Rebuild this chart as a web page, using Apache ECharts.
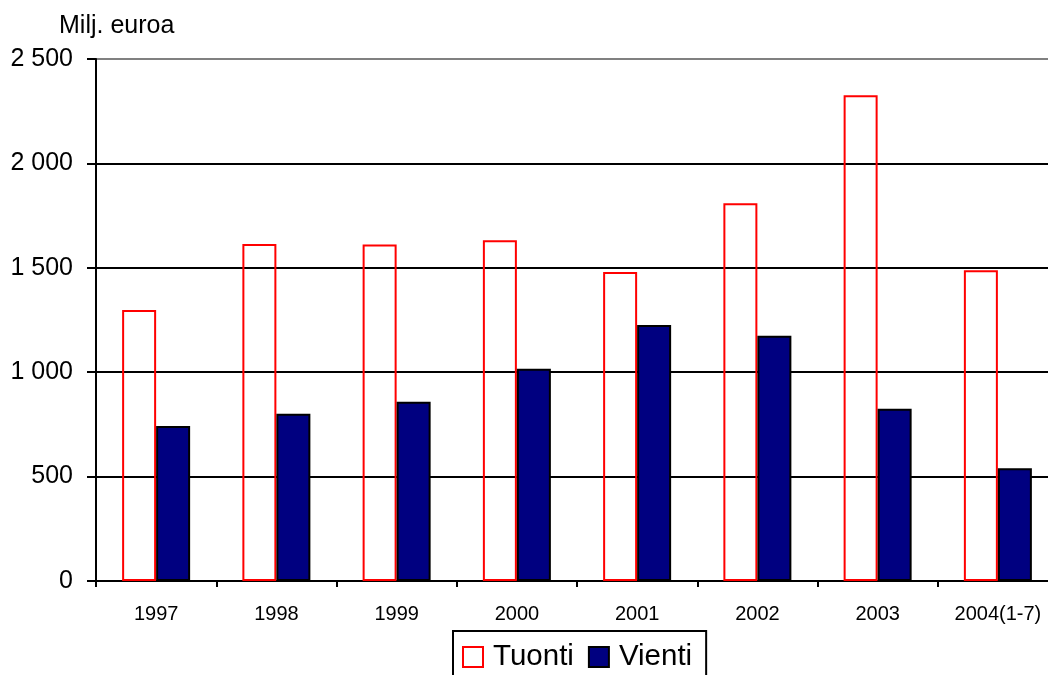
<!DOCTYPE html>
<html>
<head>
<meta charset="utf-8">
<script src="https://cdn.jsdelivr.net/npm/echarts@6/dist/echarts.min.js"></script>
<style>
html,body{margin:0;padding:0;background:#fff;overflow:hidden;width:1048px;height:675px;}
#chart{width:1058px;height:675px;}
</style>
</head>
<body>
<div id="chart"></div>
<script>
const categories = ['1997','1998','1999','2000','2001','2002','2003','2004(1-7)'];
const tuonti = [1298, 1614, 1612, 1632, 1480, 1809, 2326, 1488];
const vienti = [742, 801, 858, 1016, 1226, 1175, 825, 540];
const yTicks = [0, 500, 1000, 1500, 2000, 2500];
const unitLabel = 'Milj. euroa';
const seriesNames = ['Tuonti', 'Vienti'];

const FONT = '"Liberation Sans", Arial, sans-serif';
function fmt(v){
  return String(v).replace(/\B(?=(\d{3})+(?!\d))/g, ' ');
}
const chart = echarts.init(document.getElementById('chart'), null, {renderer:'canvas'});
chart.setOption({
  animation: false,
  backgroundColor: '#ffffff',
  title: {
    text: unitLabel,
    left: 59, top: 14, padding: 0,
    textStyle: {fontFamily: FONT, fontSize: 25, fontWeight: 'normal', color: '#000'}
  },
  legend: {
    left: 453, top: 631,
    orient: 'horizontal',
    data: seriesNames,
    borderColor: '#000', borderWidth: 2,
    padding: [11, 14, 30, 9],
    itemWidth: 20, itemHeight: 20, itemGap: 14,
    icon: 'rect',
    textStyle: {fontFamily: FONT, fontSize: 29.5, color: '#000', padding: [0,0,0,5]}
  },
  grid: {left: 96, right: 0, top: 59, bottom: 94, containLabel: false},
  xAxis: {
    type: 'category',
    data: categories,
    boundaryGap: true,
    axisLine: {show: true, lineStyle: {color: '#000', width: 2}},
    axisTick: {show: true, length: 6, lineStyle: {color: '#000', width: 2}, alignWithLabel: false},
    axisLabel: {interval: 0, margin: 23, fontFamily: FONT, fontSize: 20, color: '#000'},
    splitLine: {show: false}
  },
  yAxis: {
    type: 'value',
    min: yTicks[0], max: yTicks[yTicks.length-1], interval: 500,
    axisLine: {show: true, lineStyle: {color: '#000', width: 2}},
    axisTick: {show: true, length: 9, lineStyle: {color: '#000', width: 2}},
    axisLabel: {margin: 23, fontFamily: FONT, fontSize: 25, color: '#000', formatter: fmt},
    splitLine: {show: true, lineStyle: {color: ['#000','#000','#000','#000','#000','#808080'], width: 2}}
  },
  series: [
    {
      name: seriesNames[0], type: 'bar', data: tuonti,
      barWidth: 34, barGap: '0%',
      itemStyle: {color: 'rgba(255,255,255,0)', borderColor: '#ff0000', borderWidth: 2}
    },
    {
      name: seriesNames[1], type: 'bar', data: vienti,
      barWidth: 34, barGap: '0%',
      itemStyle: {color: '#000080', borderColor: '#000', borderWidth: 2}
    }
  ]
});
</script>
</body>
</html>
